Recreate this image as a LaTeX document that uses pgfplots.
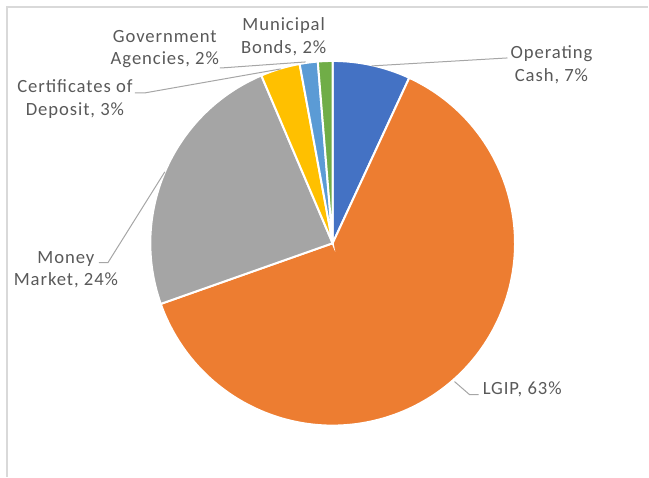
\documentclass[border=0pt]{standalone}
\usepackage{pgfplots}
\pgfplotsset{compat=1.18}
\usepackage{fontspec}
\setmainfont{Carlito}[LetterSpace=5]

\definecolor{cOC}{HTML}{4472C4}
\definecolor{cLG}{HTML}{ED7D31}
\definecolor{cMM}{HTML}{A5A5A5}
\definecolor{cCD}{HTML}{FFC000}
\definecolor{cGA}{HTML}{5B9BD5}
\definecolor{cMB}{HTML}{70AD47}
\definecolor{cTxt}{HTML}{595959}
\definecolor{cLead}{HTML}{A6A6A6}
\definecolor{cFrame}{HTML}{D9D9D9}

% one pie slice, centre and radius in px of the reference
\def\R{136.875bp}
\newcommand\slice[3]{%
  \fill[#1, draw=white, line width=1.5bp] (axis cs:333,233.5) -- ++(#2:\R)
    arc[start angle=#2, end angle=#3, radius=\R] -- cycle;}

\tikzset{lbl/.style={font=\fontsize{14bp}{17bp}\selectfont, text=cTxt,
    align=center, inner sep=0pt}}

\begin{document}
\begin{tikzpicture}

  %% shares in percent, clockwise from 12 o'clock
  \def\vOC{6.9}  % Operating Cash
  \def\vLG{62.7} % LGIP
  \def\vMM{24.0} % Money Market
  \def\vCD{3.5}  % Certificates of Deposit
  \def\vGA{1.6}  % Government Agencies
  \def\vMB{1.3}  % Municipal Bonds

  \pgfmathsetmacro\aA{90}
  \pgfmathsetmacro\aB{\aA-3.6*\vOC}
  \pgfmathsetmacro\aC{\aB-3.6*\vLG}
  \pgfmathsetmacro\aD{\aC-3.6*\vMM}
  \pgfmathsetmacro\aE{\aD-3.6*\vCD}
  \pgfmathsetmacro\aF{\aE-3.6*\vGA}
  \pgfmathsetmacro\aG{\aF-3.6*\vMB}

  \begin{axis}[
    hide axis,
    x=0.75bp, y=0.75bp,
    xmin=0, xmax=649, ymin=0, ymax=477,
    clip=false,
    ]
    \path (axis cs:0,0) rectangle (axis cs:649,477);
    %% chart frame (only top and left edges are in view)
    \addplot[draw=cFrame, line width=1bp] coordinates {(7,0) (7,470) (649,470)};

    \slice{cOC}{\aA}{\aB}
    \slice{cLG}{\aB}{\aC}
    \slice{cMM}{\aC}{\aD}
    \slice{cCD}{\aD}{\aE}
    \slice{cGA}{\aE}{\aF}
    \slice{cMB}{\aF}{\aG}

    %% leader lines
    \addplot[cLead, line width=0.75bp] coordinates {(372,411) (508,419)};
    \addplot[cLead, line width=0.75bp] coordinates {(455,95) (470,82) (479,82)};
    \addplot[cLead, line width=0.75bp] coordinates {(165,305) (108,214) (99,214)};
    \addplot[cLead, line width=0.75bp] coordinates {(281,408) (145,384) (135,384)};
    \addplot[cLead, line width=0.75bp] coordinates {(306,415) (222,409) (220,409)};

    %% data labels
    \node[lbl] at (axis cs:552,412) {Operating\\Cash, 7\%};
    \node[lbl, anchor=west] at (axis cs:483,87) {LGIP, 63\%};
    \node[lbl] at (axis cs:66,207) {Money\\Market, 24\%};
    \node[lbl] at (axis cs:75,378) {Certificates of\\Deposit, 3\%};
    \node[lbl] at (axis cs:165,428) {Government\\Agencies, 2\%};
    \node[lbl] at (axis cs:284,440) {Municipal\\Bonds, 2\%};
  \end{axis}

\end{tikzpicture}
\end{document}
